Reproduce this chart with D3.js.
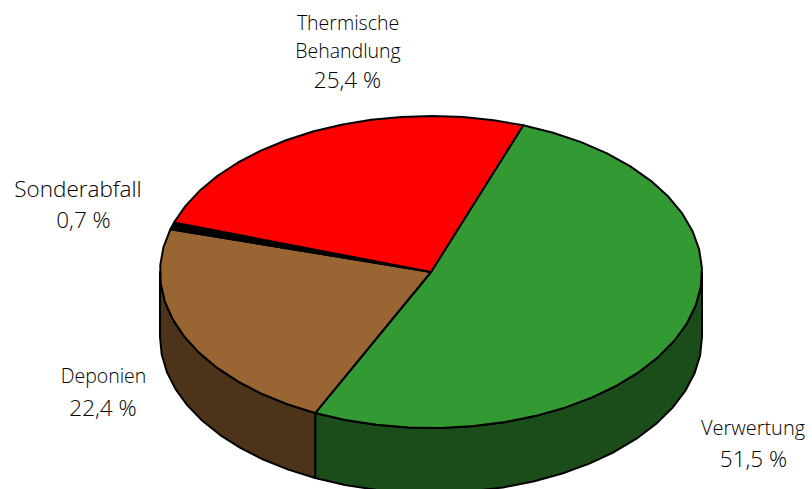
<!DOCTYPE html>
<html>
<head>
<meta charset="utf-8">
<script src="https://cdn.jsdelivr.net/npm/d3@7"></script>
<style>
  html, body { margin: 0; padding: 0; background: #fff; }
  text { font-family: "Open Sans", sans-serif; font-weight: 300; fill: #000; text-anchor: middle; }
</style>
</head>
<body>
<div id="chart"></div>
<script>
var categories = ["Verwertung", "Deponien", "Sonderabfall", "Thermische Behandlung"];
var shares = [51.5, 22.4, 0.7, 25.4];
var topColors = ["#339933", "#996633", "#000000", "#ff0000"];
var sideColors = ["#1a4d1a", "#4d331a", "#000000", "#800000"];

var width = 812, height = 489;
var cx = 431, cy = 272, rx = 271, ry = 156, depth = 65;
var startAngle = 19.9 * Math.PI / 180;

// where each label goes: text, centre x, baseline, font size
var labelPos = [
    ["Verwertung", 753, 435, 20], ["51,5 %", 753.5, 467, 22.5],
    ["Deponien", 103.5, 383, 19.5], ["22,4 %", 103, 416, 22.5],
    ["Sonderabfall", 78, 197, 22.5], ["0,7 %", 83.5, 228, 22.5],
    ["Thermische", 348, 30, 19.5], ["Behandlung", 348, 58, 19.5], ["25,4 %", 347.5, 88, 22.5]
];

var svg = d3.select("#chart")
    .append("svg")
    .attr("width", width)
    .attr("height", height)
    .style("display", "block");

var pie = d3.pie()
    .sort(null)
    .startAngle(startAngle)
    .endAngle(startAngle + 2 * Math.PI);

var slices = pie(shares);

function px(a) { return cx + rx * Math.sin(a); }
function py(a) { return cy - ry * Math.cos(a); }

// the original outline is a coarse polygon, so keep a fixed angle step
function arcPoints(a0, a1, dy) {
    var pts = [], step = 7 * Math.PI / 180;
    var n = Math.max(1, Math.ceil((a1 - a0) / step));
    d3.range(n + 1).forEach(function (i) {
        var a = a0 + (a1 - a0) * i / n;
        pts.push([px(a), py(a) + dy]);
    });
    return pts;
}

var line = d3.line();

// side wall, front half only
var front0 = Math.PI / 2, front1 = 3 * Math.PI / 2;
svg.append("g")
    .selectAll("path")
    .data(slices.filter(function (d) {
        return d.endAngle > front0 && d.startAngle < front1;
    }))
    .enter()
    .append("path")
    .attr("d", function (d) {
        var a0 = Math.max(d.startAngle, front0), a1 = Math.min(d.endAngle, front1);
        var pts = arcPoints(a0, a1, 0).concat(arcPoints(a0, a1, depth).reverse());
        return line(pts) + "Z";
    })
    .attr("fill", function (d) { return sideColors[d.index]; })
    .attr("stroke", "#000")
    .attr("stroke-width", 2)
    .attr("stroke-linejoin", "round");

// top face
svg.append("g")
    .selectAll("path")
    .data(slices)
    .enter()
    .append("path")
    .attr("d", function (d) {
        return line([[cx, cy]].concat(arcPoints(d.startAngle, d.endAngle, 0))) + "Z";
    })
    .attr("fill", function (d) { return topColors[d.index]; })
    .attr("stroke", "#000")
    .attr("stroke-width", 2)
    .attr("stroke-linejoin", "round");

// labels
labelPos.forEach(function (t) {
    svg.append("text")
        .attr("x", t[1])
        .attr("y", t[2])
        .style("font-size", t[3] + "px")
        .text(t[0]);
});
</script>
</body>
</html>
